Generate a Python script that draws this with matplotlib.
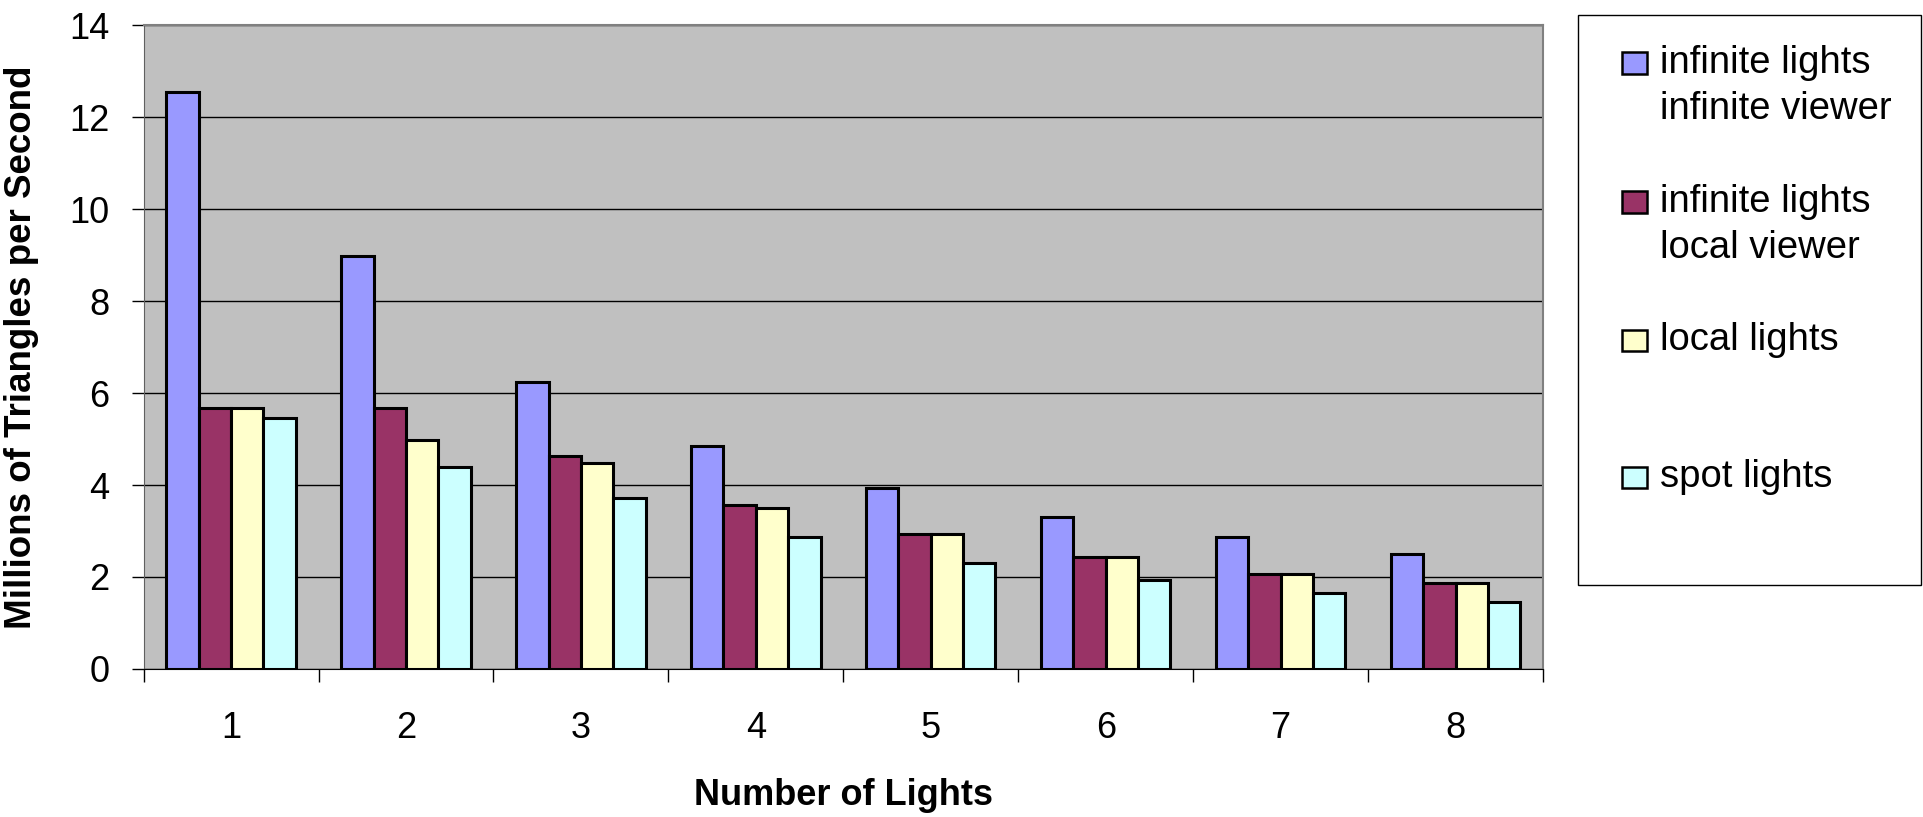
import numpy as np
import matplotlib
matplotlib.use("Agg")
import matplotlib.pyplot as plt
from matplotlib.patches import Rectangle

plt.rcParams['font.family'] = ['Liberation Sans', 'DejaVu Sans']

# --- data ---
lights = [1, 2, 3, 4, 5, 6, 7, 8]
inf_inf = [12.54, 8.97, 6.24, 4.84, 3.93, 3.30, 2.86, 2.50]
inf_local = [5.68, 5.68, 4.62, 3.57, 2.93, 2.44, 2.07, 1.87]
local_lights = [5.68, 4.97, 4.47, 3.49, 2.93, 2.44, 2.07, 1.86]
spot_lights = [5.46, 4.40, 3.72, 2.87, 2.30, 1.94, 1.66, 1.46]

series_labels = ["infinite lights\ninfinite viewer",
                 "infinite lights\nlocal viewer",
                 "local lights",
                 "spot lights"]
series_colors = ['#9999FF', '#993366', '#FFFFCC', '#CCFFFF']
series = [inf_inf, inf_local, local_lights, spot_lights]

W, H, DPI = 1923, 817, 100
fig = plt.figure(figsize=(W / DPI, H / DPI), dpi=DPI)
ax = fig.add_axes([143.6 / W, 1 - 669 / H, (1543 - 143.6) / W, (669 - 25) / H])
ax.set_facecolor('#C0C0C0')

x = np.arange(len(lights))
bw = 0.185
for i, (vals, col) in enumerate(zip(series, series_colors)):
    ax.bar(x + (i - 1.5) * bw, vals, width=bw, color=col,
           edgecolor='black', linewidth=2.2, zorder=3)

ax.set_xlim(-0.5, len(lights) - 0.5)
ax.set_ylim(0, 14)
ax.set_yticks(np.arange(0, 15, 2))
ax.grid(axis='y', color='black', linewidth=1.0, zorder=1)
ax.set_axisbelow(True)

# category ticks sit between groups, labels in the middle
ax.set_xticks(x)
ax.set_xticklabels([str(v) for v in lights])
ax.set_xticks(np.arange(-0.5, len(lights), 1.0), minor=True)
ax.tick_params(axis='x', which='major', length=0, pad=30, labelsize=26)
ax.tick_params(axis='x', which='minor', length=9.4, width=1, color='black')
ax.tick_params(axis='y', length=8.6, width=1, color='black', pad=16, labelsize=26)

for s in ['top', 'right']:
    ax.spines[s].set_color('#808080')
    ax.spines[s].set_linewidth(1.5)
ax.spines['left'].set_color('#606060')
ax.spines['bottom'].set_color('black')

ax.set_xlabel('Number of Lights', fontsize=26, fontweight='bold')
ax.xaxis.set_label_coords(0.5, -0.197)
ax.xaxis.label.set_va('center')
ax.set_ylabel('Millions of Triangles per Second', fontsize=26.5, fontweight='bold')
ax.yaxis.set_label_coords(-0.087, 0.5)
ax.yaxis.label.set_va('center')

# --- legend box drawn by hand (Excel style, top-aligned squares) ---
fig.patches.append(Rectangle((1578 / W, 1 - 585 / H), (1921 - 1578) / W, (585 - 15) / H,
                             transform=fig.transFigure, facecolor='white',
                             edgecolor='black', linewidth=1))
entry_y = [63, 202, 340, 477]
for lab, col, yy in zip(series_labels, series_colors, entry_y):
    fig.patches.append(Rectangle((1622 / W, 1 - (yy + 10.5) / H), 25 / W, 21 / H,
                                 transform=fig.transFigure, facecolor=col,
                                 edgecolor='black', linewidth=1.8))
    for k, line in enumerate(lab.split('\n')):
        fig.text(1660 / W, 1 - (yy + k * 46) / H, line, fontsize=27.5,
                 va='center', ha='left')

fig.savefig('out.png', dpi=DPI, facecolor='white')
